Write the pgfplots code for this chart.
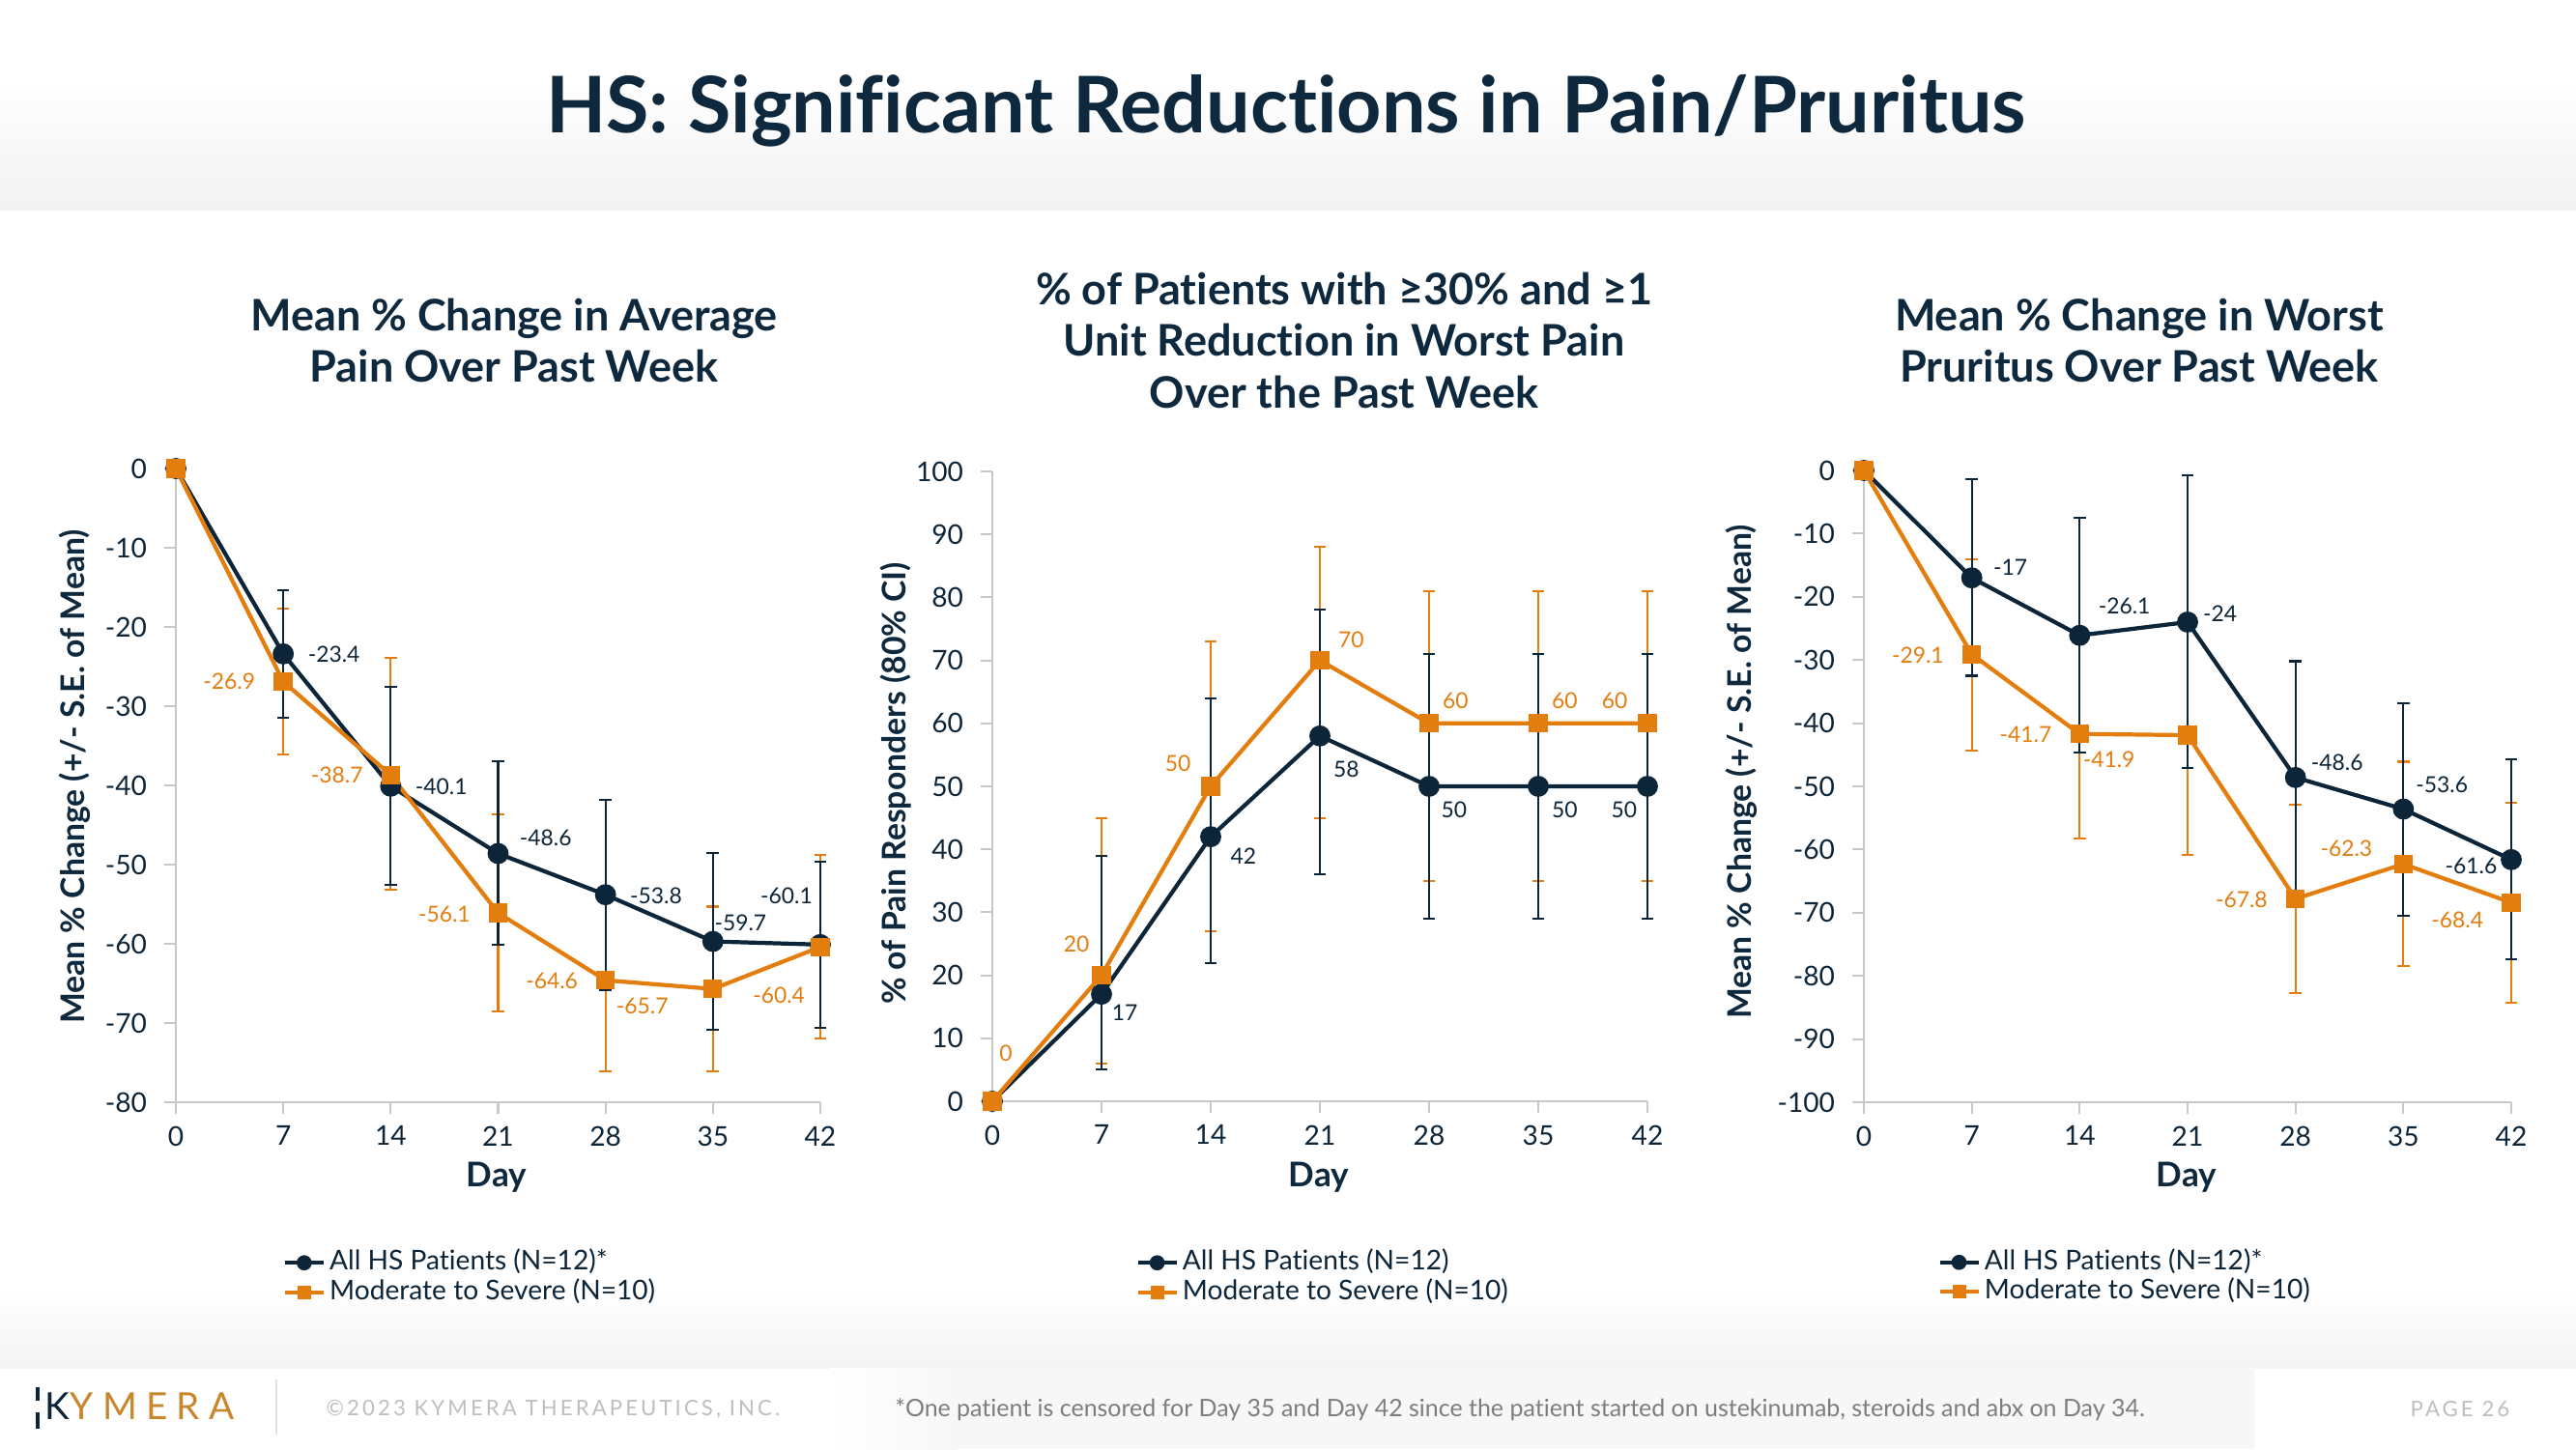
\documentclass[border=0pt]{standalone}
\usepackage{pgfplots}
\pgfplotsset{compat=1.18}
\usepackage{pgfplotstable}
\usepackage{fontspec}
\setmainfont{Lato}[Ligatures={NoCommon}]
\definecolor{navy}{RGB}{12,37,57}
\definecolor{titlec}{RGB}{14,40,61}
\definecolor{orng}{RGB}{227,125,14}
\definecolor{axgray}{RGB}{200,200,200}
\definecolor{hdr}{RGB}{242,242,242}
\definecolor{ftr}{RGB}{244,244,244}
\definecolor{boxg}{RGB}{247,247,247}
\definecolor{gold}{RGB}{200,135,45}
\definecolor{cgray}{RGB}{190,190,190}
\definecolor{fgray}{RGB}{125,125,125}

% Panel 1: mean % change in average pain
\pgfplotstableread{
x y ep em
0 0 0 0
7 -23.4 8.0 8.1
14 -40.1 12.5 12.5
21 -48.6 11.6 11.5
28 -53.8 12.0 12.0
35 -59.7 11.2 11.2
42 -60.1 10.5 10.5
}\pAnavy
\pgfplotstableread{
x y ep em
0 0 0 0
7 -26.9 9.2 9.2
14 -38.7 14.8 14.5
21 -56.1 12.4 12.4
28 -64.6 11.5 11.5
35 -65.7 10.4 10.4
42 -60.4 11.6 11.5
}\pAorng
% Panel 2: % responders (80% CI)
\pgfplotstableread{
x y ep em
0 0 0 0
7 17 22 12
14 42 22 20
21 58 20 22
28 50 21 21
35 50 21 21
42 50 21 21
}\pBnavy
\pgfplotstableread{
x y ep em
0 0 0 0
7 20 25 14
14 50 23 23
21 70 18 25
28 60 21 25
35 60 21 25
42 60 21 25
}\pBorng
% Panel 3: mean % change in worst pruritus
\pgfplotstableread{
x y ep em
0 0 0 0
7 -17 15.6 15.5
14 -26.1 18.6 18.6
21 -24 23.3 23.1
28 -48.6 18.4 18.4
35 -53.6 16.8 16.9
42 -61.6 15.9 15.8
}\pCnavy
\pgfplotstableread{
x y ep em
0 0 0 0
7 -29.1 15.1 15.2
14 -41.7 16.6 16.6
21 -41.9 19.0 19.0
28 -67.8 14.9 14.9
35 -62.3 16.2 16.1
42 -68.4 15.8 15.8
}\pCorng

\pgfplotsset{
  panel/.style={
    scale only axis, clip=false,
    axis lines*=left,
    axis line style={draw=axgray, line width=0.8pt},
    tick align=outside,
    major tick length=3.5pt,
    tick style={draw=axgray, line width=0.6pt},
    xmin=0, xmax=42, xtick={0,7,14,21,28,35,42},
    ticklabel style={font=\fontsize{8}{9.6}\selectfont, text=navy},
    /pgf/number format/assume math mode=true,
    yticklabel style={xshift=-1.5pt},
    legend cell align=left,
    legend style={draw=none, fill=none, inner sep=0pt, font=\fontsize{8}{9.6}\selectfont,
      text=navy, nodes={inner xsep=1.2pt, inner ysep=0pt, text height=6.5pt, text depth=2.2pt}, anchor=north west},
    legend image code/.code={\draw[mark repeat=2,mark phase=2,##1, mark options={scale=0.65}]
      plot coordinates {(0cm,0cm) (0.2cm,0cm) (0.4cm,0cm)};},
  },
  navyline/.style={color=navy, line width=1.2pt, mark=*, mark size=2.5pt},
  orngline/.style={color=orng, line width=1.2pt, mark=square*, mark size=2.15pt},
  navyerr/.style={draw=none, mark=none, forget plot,
    error bars/y dir=both, error bars/y explicit,
    error bars/error bar style={draw=navy, line width=0.6pt},
    error bars/error mark options={rotate=90, draw=navy, mark size=1.8pt, line width=0.6pt}},
  orngerr/.style={draw=none, mark=none, forget plot,
    error bars/y dir=both, error bars/y explicit,
    error bars/error bar style={draw=orng, line width=0.6pt},
    error bars/error mark options={rotate=90, draw=orng, mark size=1.8pt, line width=0.6pt}},
}

\begin{document}
\begin{tikzpicture}[x=1cm,y=1cm]
\useasboundingbox (0,0) rectangle (26.66,15);
\fill[white] (0,0) rectangle (26.66,15);
\shade[top color=white, bottom color=hdr] (0,12.82) rectangle (26.66,14.2);
\shade[top color=white, bottom color=ftr] (0,0.84) rectangle (26.66,1.70);
\fill[boxg] (8.59,0) rectangle (23.33,0.84);
\shade[left color=white, right color=boxg] (8.59,0) rectangle (9.9,0.84);

% main title
\node[anchor=base, font=\bfseries\fontsize{23}{27}\selectfont, text=titlec, inner sep=0pt]
  at (13.31,13.62) {HS: Significant Reductions in Pain/Pruritus};

% panel titles
\begin{scope}[every node/.style={anchor=base, font=\bfseries\fontsize{12.8}{15}\selectfont, text=titlec, inner sep=0pt}]
\node at (5.32,11.57) {Mean \% Change in Average};
\node at (5.32,11.04) {Pain Over Past Week};
\node at (13.91,11.84) {\% of Patients with ≥30\% and ≥1};
\node at (13.91,11.31) {Unit Reduction in Worst Pain};
\node at (13.91,10.77) {Over the Past Week};
\node at (22.14,11.57) {Mean \% Change in Worst};
\node at (22.14,11.04) {Pruritus Over Past Week};
\end{scope}

% axis labels
\begin{scope}[every node/.style={font=\bfseries\fontsize{9.6}{11.5}\selectfont, text=titlec, inner sep=0pt}]
\node[rotate=90] at (0.77,6.96) {Mean \% Change (+/- S.E. of Mean)};
\node[rotate=90] at (9.27,6.89) {\% of Pain Responders (80\% CI)};
\node[rotate=90] at (18.02,7.01) {Mean \% Change (+/- S.E. of Mean)};
\end{scope}
\begin{scope}[every node/.style={font=\bfseries\fontsize{10}{12}\selectfont, text=titlec, inner sep=0pt}]
\node at (5.14,2.81) {Day};
\node at (13.65,2.81) {Day};
\node at (22.63,2.81) {Day};
\end{scope}

% ---------- Panel 1 ----------
\begin{axis}[panel, at={(1.82cm,3.59cm)}, anchor=south west, width=6.67cm, height=6.56cm,
  ymin=-80, ymax=0, ytick={-80,-70,...,0},
  legend style={at={(0.165,-0.229)}}]
\addplot[navyline] table[x=x,y=y] {\pAnavy};
\addlegendentry{All HS Patients (N=12)*}
\addplot[orngline] table[x=x,y=y] {\pAorng};
\addlegendentry{Moderate to Severe (N=10)}
\addplot[orngerr] table[x=x,y=y,y error plus=ep,y error minus=em] {\pAorng};
\addplot[navyerr] table[x=x,y=y,y error plus=ep,y error minus=em] {\pAnavy};
\begin{scope}[every node/.style={font=\fontsize{6.5}{7.8}\selectfont, inner sep=0pt}]
\node[text=navy] at (axis cs:10.3,-23.5) {-23.4};
\node[text=navy] at (axis cs:17.3,-40.1) {-40.1};
\node[text=navy] at (axis cs:24.1,-46.6) {-48.6};
\node[text=navy] at (axis cs:31.3,-53.9) {-53.8};
\node[text=navy] at (axis cs:36.8,-57.4) {-59.7};
\node[text=navy] at (axis cs:39.8,-54.0) {-60.1};
\node[text=orng] at (axis cs:3.48,-26.9) {-26.9};
\node[text=orng] at (axis cs:10.5,-38.75) {-38.7};
\node[text=orng] at (axis cs:17.5,-56.3) {-56.1};
\node[text=orng] at (axis cs:24.5,-64.7) {-64.6};
\node[text=orng] at (axis cs:30.4,-67.9) {-65.7};
\node[text=orng] at (axis cs:39.3,-66.5) {-60.4};
\end{scope}
\end{axis}

% ---------- Panel 2 ----------
\begin{axis}[panel, at={(10.27cm,3.60cm)}, anchor=south west, width=6.78cm, height=6.52cm,
  ymin=0, ymax=100, ytick={0,10,...,100},
  legend style={at={(0.218,-0.232)}}]
\addplot[navyline] table[x=x,y=y] {\pBnavy};
\addlegendentry{All HS Patients (N=12)}
\addplot[orngline] table[x=x,y=y] {\pBorng};
\addlegendentry{Moderate to Severe (N=10)}
\addplot[orngerr] table[x=x,y=y,y error plus=ep,y error minus=em] {\pBorng};
\addplot[navyerr] table[x=x,y=y,y error plus=ep,y error minus=em] {\pBnavy};
\begin{scope}[every node/.style={font=\fontsize{6.5}{7.8}\selectfont, inner sep=0pt}]
\node[text=orng] at (axis cs:0.86,7.6) {0};
\node[text=orng] at (axis cs:5.4,25.0) {20};
\node[text=navy] at (axis cs:8.5,14.0) {17};
\node[text=orng] at (axis cs:11.9,53.7) {50};
\node[text=navy] at (axis cs:16.1,38.9) {42};
\node[text=orng] at (axis cs:23.0,73.2) {70};
\node[text=navy] at (axis cs:22.7,52.7) {58};
\node[text=orng] at (axis cs:29.7,63.6) {60};
\node[text=navy] at (axis cs:29.6,46.3) {50};
\node[text=orng] at (axis cs:36.7,63.6) {60};
\node[text=navy] at (axis cs:36.7,46.3) {50};
\node[text=orng] at (axis cs:39.9,63.6) {60};
\node[text=navy] at (axis cs:40.5,46.3) {50};
\end{scope}
\end{axis}

% ---------- Panel 3 ----------
\begin{axis}[panel, at={(19.29cm,3.59cm)}, anchor=south west, width=6.70cm, height=6.54cm,
  ymin=-100, ymax=0, ytick={-100,-90,...,0},
  legend style={at={(0.113,-0.229)}}]
\addplot[navyline] table[x=x,y=y] {\pCnavy};
\addlegendentry{All HS Patients (N=12)*}
\addplot[orngline] table[x=x,y=y] {\pCorng};
\addlegendentry{Moderate to Severe (N=10)}
\addplot[orngerr] table[x=x,y=y,y error plus=ep,y error minus=em] {\pCorng};
\addplot[navyerr] table[x=x,y=y,y error plus=ep,y error minus=em] {\pCnavy};
\begin{scope}[every node/.style={font=\fontsize{6.5}{7.8}\selectfont, inner sep=0pt}]
\node[text=navy] at (axis cs:9.5,-15.3) {-17};
\node[text=navy] at (axis cs:16.9,-21.4) {-26.1};
\node[text=navy] at (axis cs:23.1,-22.6) {-24};
\node[text=navy] at (axis cs:30.7,-46.2) {-48.6};
\node[text=navy] at (axis cs:37.5,-49.8) {-53.6};
\node[text=navy] at (axis cs:39.4,-62.6) {-61.6};
\node[text=orng] at (axis cs:3.5,-29.2) {-29.1};
\node[text=orng] at (axis cs:10.5,-41.8) {-41.7};
\node[text=orng] at (axis cs:15.9,-45.8) {-41.9};
\node[text=orng] at (axis cs:31.3,-59.8) {-62.3};
\node[text=orng] at (axis cs:24.5,-68.0) {-67.8};
\node[text=orng] at (axis cs:38.5,-71.2) {-68.4};
\end{scope}
\end{axis}

% ---------- footer ----------
\draw[navy, line width=1.1pt] (0.39,0.64) -- (0.39,0.50);
\draw[navy, line width=1.1pt] (0.39,0.38) -- (0.39,0.21);
\node[anchor=base west, inner sep=0pt, text=navy, font=\fontsize{11}{13}\selectfont] at (0.46,0.31) {K};
\node[anchor=base west, inner sep=0pt, text=gold, font=\fontsize{11}{13}\selectfont\addfontfeature{LetterSpace=24}] at (0.72,0.31) {YMERA};
\draw[black!12, line width=0.5pt] (2.86,0.15) -- (2.86,0.72);
\node[anchor=west, inner sep=0pt, text=cgray, font=\fontsize{6.3}{7.5}\selectfont\addfontfeature{LetterSpace=14}] at (3.37,0.41)
  {©2023 KYMERA THERAPEUTICS, INC.};
\node[inner sep=0pt, text=fgray, font=\fontsize{7.1}{8.5}\selectfont] at (15.73,0.41)
  {*One patient is censored for Day 35 and Day 42 since the patient started on ustekinumab, steroids and abx on Day 34.};
\node[anchor=east, inner sep=0pt, text=cgray, font=\fontsize{6.3}{7.5}\selectfont\addfontfeature{LetterSpace=14}] at (25.98,0.41)
  {PAGE 26};
\end{tikzpicture}
\end{document}
